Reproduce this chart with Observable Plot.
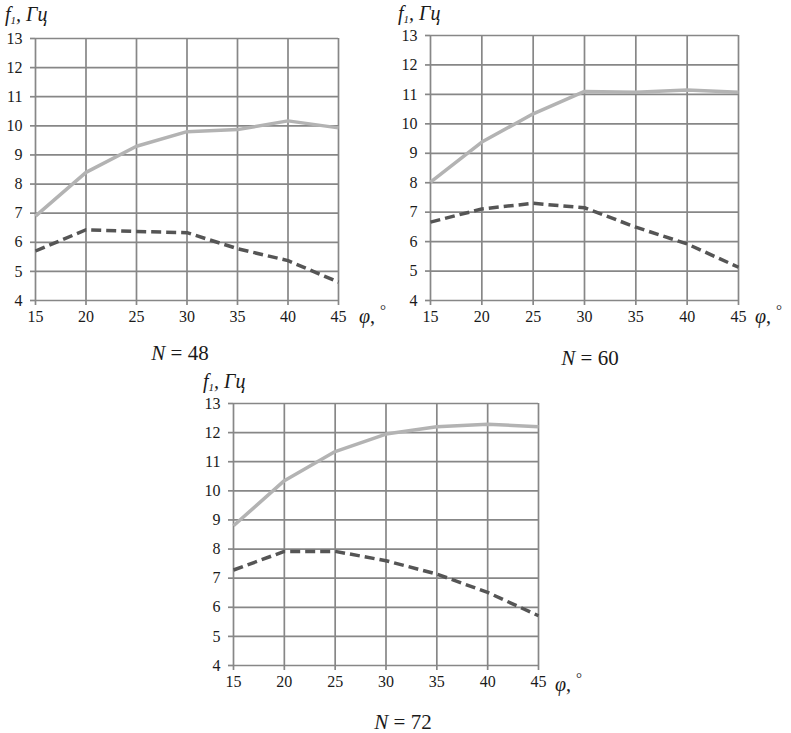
<!DOCTYPE html>
<html><head><meta charset="utf-8">
<script src="https://cdn.jsdelivr.net/npm/d3@7"></script>
<script src="https://cdn.jsdelivr.net/npm/@observablehq/plot@0.6"></script>
<style>
body{margin:0;background:#fff;}
#root{position:relative;width:791px;height:733px;overflow:hidden;font-family:'Liberation Serif',serif;}
.chart{position:absolute;}
.lab{position:absolute;white-space:nowrap;color:#1a1a1a;line-height:1;font-family:'Liberation Serif',serif;}
.it{font-style:italic;}
</style></head><body><div id="root"></div>
<script>
const angles = [15, 20, 25, 30, 35, 40, 45];
const yTicks = [4, 5, 6, 7, 8, 9, 10, 11, 12, 13];
const solid48  = [6.9, 8.4, 9.3, 9.8, 9.87, 10.17, 9.93];
const dashed48 = [5.7, 6.43, 6.37, 6.33, 5.78, 5.37, 4.63];
const solid60  = [8.02, 9.38, 10.34, 11.1, 11.07, 11.15, 11.07];
const dashed60 = [6.66, 7.11, 7.3, 7.15, 6.49, 5.92, 5.13];
const solid72  = [8.8, 10.35, 11.35, 11.95, 12.2, 12.29, 12.2];
const dashed72 = [7.28, 7.92, 7.92, 7.6, 7.14, 6.51, 5.71];
const panelLabels = ["N = 48", "N = 60", "N = 72"];

const FONT = "'Liberation Serif', serif";
const root = document.getElementById("root");

function makeChart(solid, dashed, box) {
  const sData = angles.map((a, i) => ({a, v: solid[i]}));
  const dData = angles.map((a, i) => ({a, v: dashed[i]}));
  const grid = "#878787";
  const p = Plot.plot({
    width: box.w, height: box.h,
    marginLeft: box.ml, marginRight: box.mr, marginTop: box.mt, marginBottom: box.mb,
    x: {domain: [15, 45], label: null},
    y: {domain: [4, 13], label: null},
    style: {background: "transparent", fontFamily: FONT, fontSize: "16px", color: "#1a1a1a"},
    marks: [
      Plot.gridX(angles, {stroke: grid, strokeOpacity: 1, strokeWidth: 1.7}),
      Plot.gridY(yTicks, {stroke: grid, strokeOpacity: 1, strokeWidth: 1.7}),
      Plot.axisX(angles, {tickSize: 5, tickPadding: 5, stroke: grid, strokeWidth: 1.7, fill: "#1a1a1a", fontFamily: FONT, fontSize: 16, label: null}),
      Plot.axisY(yTicks, {tickSize: 5, tickPadding: 8, stroke: grid, strokeWidth: 1.7, fill: "#1a1a1a", fontFamily: FONT, fontSize: 16, label: null}),
      Plot.line(sData, {x: "a", y: "v", stroke: "#b3b3b3", strokeWidth: 3.5, strokeLinecap: "butt"}),
      Plot.line(dData, {x: "a", y: "v", stroke: "#555555", strokeWidth: 3.5, strokeDasharray: "10,5", strokeLinecap: "butt"})
    ]
  });
  const d = document.createElement("div");
  d.className = "chart";
  d.style.left = box.x + "px";
  d.style.top = box.y + "px";
  d.appendChild(p);
  root.appendChild(d);
}

function label(html, x, y, size, cls, anchorCenter) {
  const d = document.createElement("div");
  d.className = "lab " + (cls || "");
  d.innerHTML = html;
  d.style.left = x + "px";
  d.style.top = y + "px";
  d.style.fontSize = size + "px";
  if (anchorCenter) d.style.transform = "translateX(-50%)";
  root.appendChild(d);
}

makeChart(solid48, dashed48, {x: 0, y: 0, w: 395, h: 370, ml: 35, mr: 57, mt: 38, mb: 70});
makeChart(solid60, dashed60, {x: 395, y: 0, w: 396, h: 370, ml: 35, mr: 53, mt: 35, mb: 70});
makeChart(solid72, dashed72, {x: 190, y: 370, w: 400, h: 363, ml: 43, mr: 52, mt: 33, mb: 68});

const yTitle = '<span class="it">f<sub style="font-size:11px;vertical-align:-3px">1</sub>, Гц</span>';
const xTitle = '<span class="it">φ</span>, <span style="position:relative;top:-8px;font-size:15px">°</span>';

label(yTitle, 5, 4, 20);
label(yTitle, 398, 3, 20);
label(yTitle, 203, 371, 20);

label(xTitle, 359, 306, 20);
label(xTitle, 755, 306, 20);
label(xTitle, 555, 674, 20);

const nHtml = s => s.replace("N", '<span class="it">N</span>');
label(nHtml(panelLabels[0]), 180, 343, 21, "", true);
label(nHtml(panelLabels[1]), 590, 348, 21, "", true);
label(nHtml(panelLabels[2]), 403, 712, 21, "", true);
</script>
</body></html>
